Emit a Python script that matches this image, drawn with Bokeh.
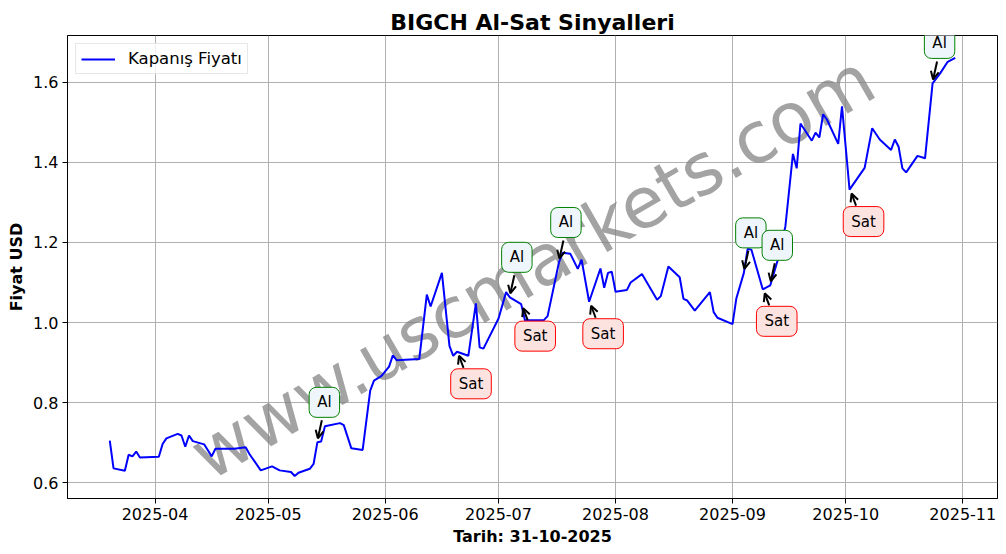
from datetime import datetime, timedelta
from bokeh.plotting import figure
from bokeh.models import (ColumnDataSource, Label, Arrow, OpenHead, FixedTicker,
                          DatetimeTickFormatter, NumeralTickFormatter, Range1d)
from bokeh.embed import file_html
from bokeh.resources import INLINE

# ---------------- data ----------------
dates = [
    "2025-03-20", "2025-03-21", "2025-03-24", "2025-03-25", "2025-03-26", "2025-03-27", "2025-03-28",
    "2025-04-02", "2025-04-03", "2025-04-04", "2025-04-07", "2025-04-08", "2025-04-09", "2025-04-10",
    "2025-04-11", "2025-04-14", "2025-04-16", "2025-04-17", "2025-04-22", "2025-04-25", "2025-04-26",
    "2025-04-29", "2025-05-02", "2025-05-04", "2025-05-07", "2025-05-08", "2025-05-09", "2025-05-12",
    "2025-05-13", "2025-05-14", "2025-05-15", "2025-05-16", "2025-05-20", "2025-05-21", "2025-05-23",
    "2025-05-26", "2025-05-28", "2025-05-29", "2025-05-31", "2025-06-02", "2025-06-03", "2025-06-04",
    "2025-06-10", "2025-06-12", "2025-06-13", "2025-06-16", "2025-06-18", "2025-06-19", "2025-06-20",
    "2025-06-23", "2025-06-25", "2025-06-26", "2025-06-27", "2025-07-01", "2025-07-03", "2025-07-04",
    "2025-07-07", "2025-07-08", "2025-07-13", "2025-07-14", "2025-07-17", "2025-07-18", "2025-07-20",
    "2025-07-22", "2025-07-23", "2025-07-25", "2025-07-28", "2025-07-29", "2025-07-30", "2025-07-31",
    "2025-08-01", "2025-08-04", "2025-08-05", "2025-08-08", "2025-08-12", "2025-08-13", "2025-08-15",
    "2025-08-18", "2025-08-19", "2025-08-20", "2025-08-22", "2025-08-26", "2025-08-27", "2025-08-28",
    "2025-09-01", "2025-09-02", "2025-09-04", "2025-09-05", "2025-09-06", "2025-09-09", "2025-09-11",
    "2025-09-13", "2025-09-15", "2025-09-17", "2025-09-18", "2025-09-19", "2025-09-22", "2025-09-23",
    "2025-09-24", "2025-09-25", "2025-09-26", "2025-09-29", "2025-09-30", "2025-10-02", "2025-10-06",
    "2025-10-08", "2025-10-10", "2025-10-13", "2025-10-14", "2025-10-15", "2025-10-16", "2025-10-17",
    "2025-10-20", "2025-10-22", "2025-10-24", "2025-10-26", "2025-10-28", "2025-10-30",
]
close = [
    0.705, 0.636, 0.630, 0.670, 0.666, 0.678, 0.663,
    0.665, 0.697, 0.711, 0.722, 0.718, 0.690, 0.718,
    0.704, 0.696, 0.666, 0.685, 0.685, 0.689, 0.672,
    0.631, 0.641, 0.631, 0.627, 0.617, 0.625, 0.635,
    0.647, 0.701, 0.703, 0.741, 0.749, 0.744, 0.686,
    0.682, 0.830, 0.855, 0.867, 0.890, 0.918, 0.906,
    0.909, 1.070, 1.040, 1.124, 0.942, 0.917, 0.927,
    0.917, 1.048, 0.938, 0.935, 1.010, 1.076, 1.063,
    1.046, 1.006, 1.006, 1.016, 1.150, 1.174, 1.172,
    1.134, 1.157, 1.052, 1.135, 1.087, 1.124, 1.127,
    1.077, 1.081, 1.100, 1.121, 1.057, 1.066, 1.140,
    1.113, 1.059, 1.055, 1.030, 1.076, 1.026, 1.012,
    0.996, 1.060, 1.124, 1.184, 1.182, 1.083, 1.093,
    1.157, 1.240, 1.421, 1.385, 1.497, 1.454, 1.474,
    1.462, 1.520, 1.507, 1.446, 1.540, 1.332, 1.386,
    1.485, 1.457, 1.431, 1.457, 1.439, 1.385, 1.375,
    1.416, 1.410, 1.597, 1.622, 1.651, 1.661,
]
al_dates = ["2025-05-14", "2025-07-04", "2025-07-17", "2025-09-04", "2025-09-11", "2025-10-24"]
sat_dates = ["2025-06-20", "2025-07-07", "2025-07-25", "2025-09-09", "2025-10-02"]
y_ticks = [0.6, 0.8, 1.0, 1.2, 1.4, 1.6]
x_ticks = ["2025-04-01", "2025-05-01", "2025-06-01", "2025-07-01",
           "2025-08-01", "2025-09-01", "2025-10-01", "2025-11-01"]

TITLE = "BIGCH Al-Sat Sinyalleri"
XLABEL = "Tarih: 31-10-2025"
YLABEL = "Fiyat USD"
LEGEND = "Kapanış Fiyatı"
WATERMARK = "www.uscmarkets.com"

# ---------------- helpers ----------------
FONT = "DejaVu Sans"
EPOCH = datetime(1970, 1, 1)


def parse(s):
    return datetime.strptime(s, "%Y-%m-%d")


def ms(d):
    return (d - EPOCH).total_seconds() * 1000.0


xs = [ms(parse(d)) for d in dates]
lookup = dict(zip(dates, close))

FW, FH = 930, 463
ref = datetime(2025, 4, 1)
x0 = ms(ref - timedelta(days=23.2))
x1 = ms(ref + timedelta(days=223.2))
y0, y1 = 0.5608, 1.7166
px_x = (x1 - x0) / FW
px_y = (y1 - y0) / FH

p = figure(frame_width=FW, frame_height=FH, x_axis_type="datetime",
           x_range=Range1d(x0, x1), y_range=Range1d(y0, y1),
           output_backend="svg", toolbar_location=None, title=TITLE,
           min_border_left=67, min_border_right=1, min_border_top=35,
           min_border_bottom=47, background_fill_color="white",
           border_fill_color="white")

p.title.align = "center"
p.title.text_font = FONT
p.title.text_font_size = "22px"
p.title.text_font_style = "bold"
p.title.text_color = "black"
p.title.standoff = 2

p.outline_line_color = "black"
p.outline_line_width = 1
p.outline_line_alpha = 1

p.grid.grid_line_color = "#b0b0b0"
p.grid.grid_line_width = 1

for ax in (p.xaxis, p.yaxis):
    ax.axis_line_color = "black"
    ax.major_tick_line_color = "black"
    ax.major_tick_in = 0
    ax.major_tick_out = 5
    ax.minor_tick_line_color = None
    ax.major_label_text_font = FONT
    ax.major_label_text_font_size = "16px"
    ax.major_label_text_color = "black"
    ax.axis_label_text_font = FONT
    ax.axis_label_text_font_size = "16px"
    ax.axis_label_text_font_style = "bold"
    ax.axis_label_text_color = "black"
    ax.major_label_standoff = 4
    ax.axis_label_standoff = 4

p.xaxis.axis_label = XLABEL
p.yaxis.axis_label = YLABEL
p.xaxis.ticker = FixedTicker(ticks=[ms(parse(t)) for t in x_ticks])
fmt = "%Y-%m"
p.xaxis.formatter = DatetimeTickFormatter(
    milliseconds=fmt, seconds=fmt, minsec=fmt, minutes=fmt, hourmin=fmt,
    hours=fmt, days=fmt, months=fmt, years=fmt)
p.yaxis.ticker = FixedTicker(ticks=y_ticks)
p.yaxis.formatter = NumeralTickFormatter(format="0.0")

# watermark
wm = Label(x=(x0 + x1) / 2, y=(y0 + y1) / 2, text=WATERMARK, angle=30,
           angle_units="deg", text_align="center", text_baseline="middle",
           text_font=FONT, text_font_size="71px", text_color="gray",
           text_alpha=0.72, level="underlay")
p.add_layout(wm)

# price line
p.line(xs, close, line_color="blue", line_width=2, legend_label=LEGEND)

# signals
def add_signals(sig_dates, text, fill, edge, lab_off, arr_start, arr_end):
    sx, sy, ex, ey = [], [], [], []
    for d in sig_dates:
        x = ms(parse(d))
        y = lookup[d]
        sx.append(x + arr_start[0] * px_x)
        sy.append(y + arr_start[1] * px_y)
        ex.append(x + arr_end[0] * px_x)
        ey.append(y + arr_end[1] * px_y)
    src = ColumnDataSource(dict(x_start=sx, y_start=sy, x_end=ex, y_end=ey))
    p.add_layout(Arrow(source=src, x_start="x_start", y_start="y_start",
                       x_end="x_end", y_end="y_end", line_width=2,
                       line_color="black",
                       end=OpenHead(size=8, line_width=2, line_color="black")))
    for d in sig_dates:
        p.add_layout(Label(x=ms(parse(d)), y=lookup[d], x_offset=lab_off[0],
                           y_offset=lab_off[1], text=text, text_align="center",
                           text_baseline="middle", text_font=FONT,
                           text_font_size="15px", text_color="black",
                           background_fill_color=fill, border_line_color=edge,
                           border_line_width=1,
                           padding=dict(left=8, right=8, top=6, bottom=6),
                           border_radius=7))


add_signals(al_dates, "Al", "#eef6fb", "green", (7, 40), (4.5, 22), (0.5, 4))
add_signals(sat_dates, "Sat", "#fde3e0", "red", (14, -32), (6.5, -16), (2, -4))

# legend
lg = p.legend[0]
lg.location = "top_left"
lg.margin = 8
lg.padding = 5
lg.label_text_font = FONT
lg.label_text_font_size = "16.5px"
lg.label_text_color = "black"
lg.glyph_width = 34
lg.glyph_height = 18
lg.label_height = 18
lg.label_standoff = 13
lg.border_line_color = "#d0d0d0"
lg.border_line_width = 1
lg.background_fill_alpha = 0.8
lg.spacing = 0

open("out.html", "w").write(file_html(p, INLINE))
